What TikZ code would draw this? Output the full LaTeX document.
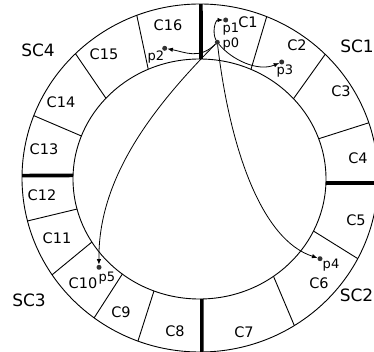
\documentclass[tikz,border=0pt]{standalone}
\usepackage{fontspec}
\setmainfont{DejaVu Sans}
\usetikzlibrary{arrows.meta}
\begin{document}
\begin{tikzpicture}[x=1pt,y=-1pt,
  ring/.style={line width=0.9pt},
  sepline/.style={line width=3.6pt},
  clab/.style={font=\fontsize{14.5}{16}\selectfont, inner sep=0pt},
  sclab/.style={font=\fontsize{17}{19}\selectfont, inner sep=0pt},
  plab/.style={font=\fontsize{13}{15}\selectfont, inner sep=0pt},
  dot/.style={circle, fill=black!80, inner sep=0pt, minimum size=5pt},
  arr/.style={line width=0.8pt, -{Latex[length=5.5pt,width=4.5pt]}}
]
\useasboundingbox (0,0) rectangle (374,352);
\clip (0,0) rectangle (374,352);
% ring
\draw[ring] (199.5,179) ellipse [x radius=126.5, y radius=120];
\draw[ring] (200,178) ellipse [x radius=178, y radius=174];
% thin boundaries (inner angle / outer angle)
\foreach \a/\b in {66/68, 42/45.3, 19.6/18.5, -25.7/-27.6, -54.2/-58,
                   -111.1/-110.4, -127.6/-126.5, -148.3/-146.2, -165.5/-165.7,
                   159/159, 137.7/134.4, 113.9/110.8}
  \draw[ring] ({199.5+126.5*cos(\a)},{179-120*sin(\a)}) -- ({200+178*cos(\b)},{178-174*sin(\b)});
% thick boundaries
\foreach \a/\b in {89.3/89.7, -1.9/-1.65, -88.9/-89.4, 178.3/179.2}
  \draw[sepline] ({199.5+126.5*cos(\a)},{179-120*sin(\a)}) -- ({200+178*cos(\b)},{178-174*sin(\b)});
% cell labels
\node[clab] (c1) at (248,22) {C1};
\node[clab] (c2) at (297,45) {C2};
\node[clab] (c3) at (341,91) {C3};
\node[clab] (c4) at (358,158) {C4};
\node[clab] (c5) at (356,220) {C5};
\node[clab] (c6) at (319,283) {C6};
\node[clab] (c7) at (244,332) {C7};
\node[clab] (c8) at (175,331) {C8};
\node[clab] (c9) at (121,312) {C9};
\node[clab] (c10) at (83,283) {C10};
\node[clab] (c11) at (57,238) {C11};
\node[clab] (c12) at (42,195) {C12};
\node[clab] (c13) at (44,149) {C13};
\node[clab] (c14) at (61,102) {C14};
\node[clab] (c15) at (104,54) {C15};
\node[clab] (c16) at (168,25) {C16};
% sector labels
\node[sclab] (sc1) at (357,46) {SC1};
\node[sclab] (sc2) at (356.5,295) {SC2};
\node[sclab] (sc3) at (29,300) {SC3};
\node[sclab] (sc4) at (38,50) {SC4};
% points
\node[dot] (p0) at (217.3,42.3) {};
\node[dot] (p1) at (225.7,20) {};
\node[dot] (p2) at (164.7,48.3) {};
\node[dot] (p3) at (281.7,62) {};
\node[dot] (p4) at (320,258.7) {};
\node[dot] (p5) at (99,267.3) {};
\node[plab] (l0) at (231,44) {p0};
\node[plab] (l1) at (231,29.5) {p1};
\node[plab] (l2) at (156,57) {p2};
\node[plab] (l3) at (285,71) {p3};
\node[plab] (l4) at (331,265) {p4};
\node[plab] (l5) at (107,278) {p5};
% arrows
\draw[arr] (p0) .. controls (212,33) and (215,20) .. (p1);
\draw[arr] (p0) .. controls (199,60) and (185,52) .. (p2);
\draw[arr] (p0) .. controls (232,60) and (258,72) .. (p3);
\draw[arr] (p0) .. controls (230,150) and (262,240) .. (p4);
\draw[arr] (p0) .. controls (150,110) and (98,180) .. (p5);
\end{tikzpicture}
\end{document}
